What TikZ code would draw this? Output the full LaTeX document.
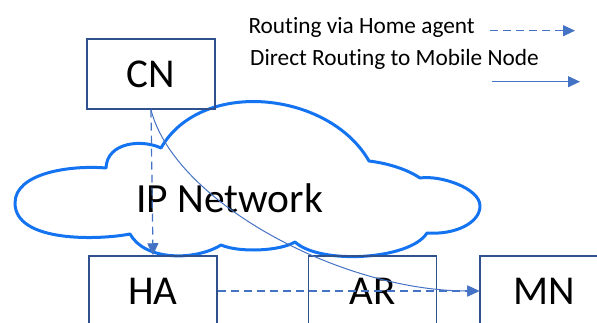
\documentclass[tikz,border=0pt]{standalone}
\usepackage{fontspec}
\setmainfont[Ligatures=NoCommon]{Carlito}
\usetikzlibrary{arrows.meta}

\definecolor{boxblue}{RGB}{47,82,143}
\definecolor{linkblue}{RGB}{68,114,196}
\definecolor{cloudblue}{RGB}{20,115,240}

\tikzset{
  nodebox/.style={draw=boxblue, line width=1.5pt, minimum width=128pt,
    minimum height=70pt, inner sep=0pt, font=\fontsize{41}{48}\selectfont},
  tip/.style={-{Triangle[length=12pt,width=11pt]}},
  viaha/.style={tip, draw=linkblue, line width=1.2pt, dash pattern=on 8pt off 5pt},
  direct/.style={tip, draw=linkblue, line width=1pt},
  legend/.style={anchor=base west, inner sep=0pt, font=\fontsize{23.3}{28}\selectfont}
}

\begin{document}
\begin{tikzpicture}[x=1pt,y=1pt]
        \useasboundingbox (0,0) rectangle (597,323);
        \clip (0,0) rectangle (597,323);

        % cloud
        \draw[cloudblue, line width=3pt, line join=round]
          (106,155) .. controls (107,181) and (142,184) .. (161,175)
          .. controls (201,245) and (329,232) .. (369,162)
          .. controls (385,160) and (405,155) .. (420,145)
          .. controls (440,148) and (480,135) .. (480,117)
          .. controls (480,100) and (455,88) .. (427,90)
          .. controls (410,63) and (320,58) .. (295,81)
          .. controls (280,72) and (240,70) .. (221,78)
          .. controls (195,62) and (145,62) .. (130,89)
          .. controls (100,83) and (15,80) .. (15,120)
          .. controls (15,150) and (70,158) .. cycle;
        \node[anchor=base, inner sep=0pt, font=\fontsize{41.5}{48}\selectfont] (ipnet) at (229.5,110.7) {IP Network};

        % boxes
        \node[nodebox] (cn) at (151,249) {CN};
        \node[nodebox] (ha) at (153,32) {HA};
        \node[nodebox] (ar) at (372.5,32) {AR};
        \node[nodebox] (mn) at (544,32) {MN};

        % routes
        \draw[viaha] (cn.south) -- (ha.north);
        \draw[viaha] (ha.east) -- (mn.west);
        \draw[direct] (cn.south) .. controls +(23,-91) and +(-140,0) .. (mn.west);

        % legend
        \node[legend] (lgha) at (248.3,289.7) {Routing via Home agent};
        \node[legend] (lgmn) at (250,257) {Direct Routing to Mobile Node};
        \coordinate (haA) at (490,292.3);
        \coordinate (haB) at (575,292.3);
        \coordinate (mnA) at (491.7,241.3);
        \coordinate (mnB) at (580,241.3);
        \draw[viaha] (haA) -- (haB);
        \draw[direct] (mnA) -- (mnB);
\end{tikzpicture}
\end{document}
